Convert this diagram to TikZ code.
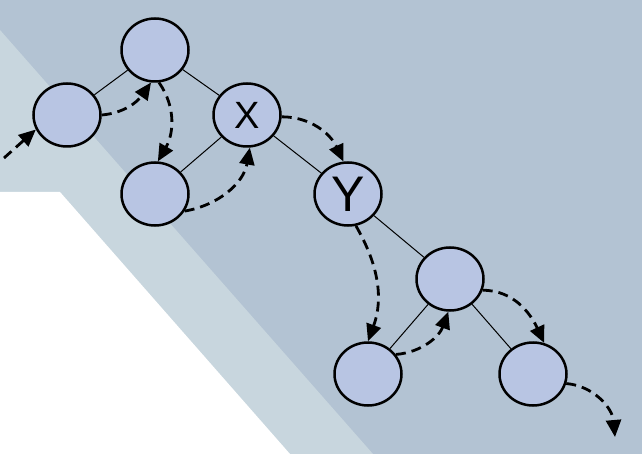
\documentclass[tikz,border=0pt]{standalone}
\usepackage{fontspec}
\newfontfamily\arialfont{Liberation Sans}
\usepackage{xcolor}
\usepackage{tikz}
\usetikzlibrary{arrows.meta,shapes.geometric}
\definecolor{bgdark}{RGB}{179,195,211}
\definecolor{bgstrip}{RGB}{200,214,222}
\definecolor{nodefill}{RGB}{184,197,227}

\begin{document}
\begin{tikzpicture}[x=1pt, y=1pt, >={Triangle[length=17pt,width=15pt]},
  tnode/.style={ellipse, draw, line width=2.5pt, fill=nodefill,
    minimum width=67pt, minimum height=63pt, inner sep=0pt},
  treeline/.style={line width=1pt},
  tour/.style={->, line width=2.8pt, dash pattern=on 10pt off 6pt}]
  \useasboundingbox (0,0) rectangle (642,-454);
  \fill[bgdark] (0,0) rectangle (642,-454);
  \fill[bgstrip] (0,-30) -- (373,-454) -- (0,-454) -- cycle;
  \fill[white] (0,-192) -- (60,-192) -- (290,-454) -- (0,-454) -- cycle;

  \node[tnode] (root) at (155,-50) {};
  \node[tnode] (l) at (67,-115) {};
  \node[tnode, font={\arialfont\fontsize{38pt}{38pt}\selectfont}] (x) at (247,-115) {X};
  \node[tnode] (lb) at (155,-194) {};
  \node[tnode, font={\arialfont\fontsize{50pt}{50pt}\selectfont}] (y) at (348,-194) {Y};
  \node[tnode] (m) at (450,-279) {};
  \node[tnode] (mb) at (368,-374) {};
  \node[tnode] (mr) at (533,-374) {};
  \coordinate (in) at (4,-158);
  \coordinate (out) at (615,-437);

  \draw[treeline] (root) -- (l);
  \draw[treeline] (root) -- (x);
  \draw[treeline] (x) -- (lb);
  \draw[treeline] (x) -- (y);
  \draw[treeline] (y) -- (m);
  \draw[treeline] (m) -- (mb);
  \draw[treeline] (m) -- (mr);

  \draw[tour] (in) -- (l.205);
  \draw[tour] (l.east) to[out=5, in=-125] (root.-97);
  \draw[tour] (root.-83) to[out=-55, in=60] (lb.85);
  \draw[tour] (lb.-30) to[out=10, in=-100] (x.-85);
  \draw[tour] (x.-3) to[out=0, in=115] (y.98);
  \draw[tour] (y.-76) to[out=-60, in=70] (mb.90);
  \draw[tour] (mb.35) to[out=5, in=-110] (m.-93);
  \draw[tour] (m.-19) to[out=0, in=115] (mr.70);
  \draw[tour] (mr.-16) to[out=-5, in=95] (out);
\end{tikzpicture}
\end{document}
